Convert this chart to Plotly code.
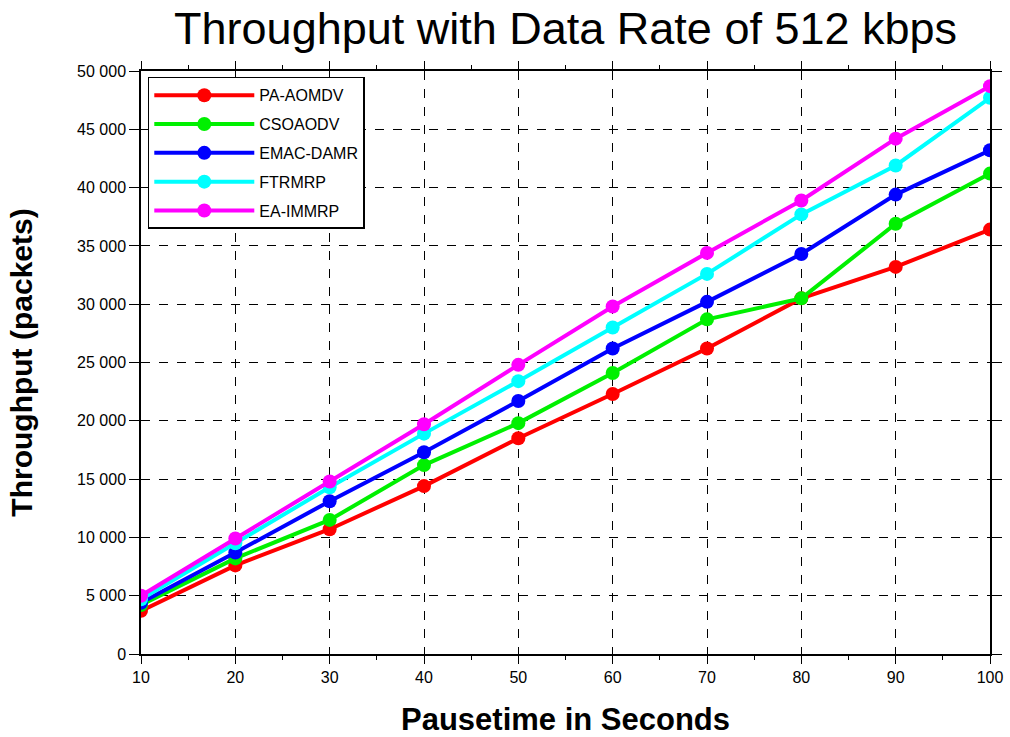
import plotly.graph_objects as go

pausetime = [10, 20, 30, 40, 50, 60, 70, 80, 90, 100]
pa_aomdv = [3700, 7600, 10700, 14400, 18500, 22300, 26200, 30500, 33200, 36400]
csoaodv = [4200, 8200, 11500, 16200, 19800, 24100, 28700, 30500, 36900, 41200]
emac_damr = [4400, 8700, 13100, 17300, 21700, 26200, 30200, 34300, 39400, 43200]
ftrmrp = [4700, 9500, 14300, 18900, 23400, 28000, 32600, 37700, 41900, 47700]
ea_immrp = [5000, 9900, 14800, 19700, 24800, 29800, 34400, 38900, 44200, 48700]

series = [
    ("PA-AOMDV", pa_aomdv, "#ff0000"),
    ("CSOAODV", csoaodv, "#00f000"),
    ("EMAC-DAMR", emac_damr, "#0000ff"),
    ("FTRMRP", ftrmrp, "#00ffff"),
    ("EA-IMMRP", ea_immrp, "#ff00ff"),
]

y_ticks = [0, 5000, 10000, 15000, 20000, 25000, 30000, 35000, 40000, 45000, 50000]
y_tick_labels = ["0", "5 000", "10 000", "15 000", "20 000", "25 000", "30 000",
                 "35 000", "40 000", "45 000", "50 000"]
x_ticks = [10, 20, 30, 40, 50, 60, 70, 80, 90, 100]

fig = go.Figure()
for name, vals, col in series:
    fig.add_trace(go.Scatter(
        x=pausetime, y=vals, name=name, mode="lines+markers",
        legendgroup=name,
        line=dict(color=col, width=4),
        marker=dict(color=col, size=14),
    ))

font_family = "Liberation Sans, Arial, sans-serif"
fig.update_layout(
    width=1010, height=737,
    margin=dict(l=141, r=20, t=71, b=83),
    paper_bgcolor="white", plot_bgcolor="white",
    title=dict(text="Throughput with Data Rate of 512 kbps", x=0.56, xanchor="center",
               y=0.962, yanchor="middle",
               font=dict(family=font_family, size=45, color="black")),
    font=dict(family=font_family, color="black"),
    showlegend=True,
    legend=dict(x=0.008, y=0.99, xanchor="left", yanchor="top",
                bgcolor="white", bordercolor="black", borderwidth=1.5,
                font=dict(family=font_family, size=16, color="black"),
                itemwidth=100, tracegroupgap=5),
    xaxis=dict(range=[10, 100], tickvals=x_ticks, ticks="outside", ticklen=8,
               tickcolor="black", showline=True, linecolor="black", linewidth=1.5,
               mirror="ticks", showgrid=True, gridcolor="black", griddash="dash",
               gridwidth=1, zeroline=False, automargin=False,
               tickfont=dict(size=16, family=font_family, color="black"),
               title=dict(text="<b>Pausetime in Seconds</b>",
                          font=dict(size=31, family=font_family, color="black"),
                          standoff=24),
               minor=dict(dtick=5, ticks="outside", ticklen=4, tickcolor="black")),
    yaxis=dict(range=[0, 50000], tickvals=y_ticks, ticktext=y_tick_labels,
               ticks="outside", ticklen=10, tickcolor="black", showline=True,
               linecolor="black", linewidth=1.5, mirror="ticks", showgrid=True,
               gridcolor="black", griddash="dash", gridwidth=1, zeroline=False,
               automargin=False,
               tickfont=dict(size=16, family=font_family, color="black"),
               title=dict(text="<b>Throughput (packets)</b>",
                          font=dict(size=30, family=font_family, color="black"),
                          standoff=36)),
)

fig.write_html("out.html")
